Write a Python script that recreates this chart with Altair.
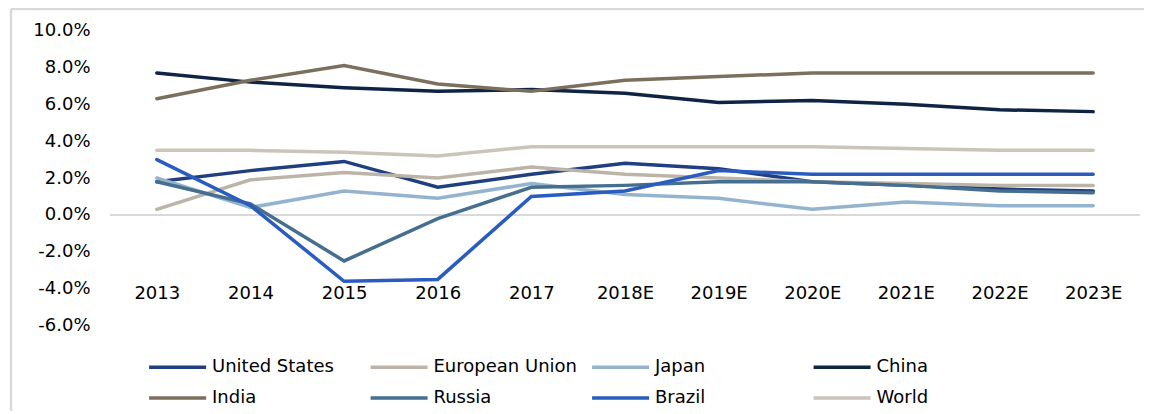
import altair as alt
import pandas as pd

years = ["2013", "2014", "2015", "2016", "2017", "2018E", "2019E", "2020E", "2021E", "2022E", "2023E"]
united_states = [1.8, 2.4, 2.9, 1.5, 2.2, 2.8, 2.5, 1.8, 1.6, 1.4, 1.3]
european_union = [0.3, 1.9, 2.3, 2.0, 2.6, 2.2, 2.0, 1.8, 1.7, 1.6, 1.6]
japan = [2.0, 0.4, 1.3, 0.9, 1.7, 1.1, 0.9, 0.3, 0.7, 0.5, 0.5]
china = [7.7, 7.2, 6.9, 6.7, 6.8, 6.6, 6.1, 6.2, 6.0, 5.7, 5.6]
india = [6.3, 7.3, 8.1, 7.1, 6.7, 7.3, 7.5, 7.7, 7.7, 7.7, 7.7]
russia = [1.8, 0.6, -2.5, -0.2, 1.5, 1.6, 1.8, 1.8, 1.6, 1.3, 1.2]
brazil = [3.0, 0.5, -3.6, -3.5, 1.0, 1.3, 2.4, 2.2, 2.2, 2.2, 2.2]
world = [3.5, 3.5, 3.4, 3.2, 3.7, 3.7, 3.7, 3.7, 3.6, 3.5, 3.5]
y_ticks = [-6, -4, -2, 0, 2, 4, 6, 8, 10]

series_names = ["United States", "European Union", "Japan", "China", "India", "Russia", "Brazil", "World"]
series_values = [united_states, european_union, japan, china, india, russia, brazil, world]
series_colors = ["#1f3f80", "#bdb4a8", "#94b3cf", "#0f2344", "#7b6f5d", "#456e8f", "#2a5cbf", "#cbc4b8"]

rows = []
for i, (name, vals) in enumerate(zip(series_names, series_values)):
    for yr, v in zip(years, vals):
        rows.append({"year": yr, "series": name, "value": v, "series_order": i})
df = pd.DataFrame(rows)

FONT = "DejaVu Sans"
FS = 18

y_scale = alt.Scale(domain=[-6, 10], nice=False, zero=False)
y_axis = alt.Axis(values=y_ticks, domain=False, ticks=False,
                  grid=False, labelPadding=20, labelFont=FONT, labelFontSize=FS,
                  labelColor="#000000", labelOverlap=False,
                  labelExpr="(datum.value < 0 ? '-' : '') + format(abs(datum.value), '.1f') + '%'")

x_enc = alt.X("year:N", sort=years, title=None,
              scale=alt.Scale(type="point", padding=0.5),
              axis=alt.Axis(orient="bottom", offset=-41, domain=False, ticks=False,
                            labelPadding=0, labelAngle=0, labelFont=FONT,
                            labelFontSize=FS, labelColor="#000000", grid=False))
y_enc = alt.Y("value:Q", title=None, scale=y_scale, axis=y_axis)

zero_line = alt.Chart(pd.DataFrame({"z": [0]})).mark_rule(color="#d9d9d9", strokeWidth=2).encode(
    y=alt.Y("z:Q", title=None, scale=y_scale, axis=y_axis)
)

lines = alt.Chart(df).mark_line(strokeWidth=3.5, strokeCap="round").encode(
    x=x_enc,
    y=y_enc,
    color=alt.Color("series:N", sort=series_names,
                    scale=alt.Scale(domain=series_names, range=series_colors),
                    legend=alt.Legend(title=None, orient="none", legendX=37, legendY=323,
                                      columns=4, direction="horizontal", gridAlign="all",
                                      symbolType="M-1,0L4,0", symbolSize=520, symbolStrokeWidth=3.5,
                                      labelOffset=38, labelFont=FONT, labelFontSize=FS,
                                      labelColor="#000000", columnPadding=7.5, rowPadding=8,
                                      labelLimit=300, padding=0)),
    order=alt.Order("series_order:Q"),
)

frame_top = alt.Chart(pd.DataFrame({"a": [0]})).mark_rule(color="#d9d9d9", strokeWidth=2.5).encode(
    x=alt.value(-99), x2=alt.value(1050), y=alt.value(-21.5)
)
frame_left = alt.Chart(pd.DataFrame({"a": [0]})).mark_rule(color="#d9d9d9", strokeWidth=2.5).encode(
    x=alt.value(-99), y=alt.value(-21.5), y2=alt.value(400)
)

chart = alt.layer(zero_line, lines, frame_top, frame_left).properties(
    width=1030, height=295,
    autosize=alt.AutoSizeParams(type="none"),
    padding={"left": 102, "top": 22.5, "right": 4, "bottom": 85},
    background="#ffffff",
).configure_view(stroke=None).configure_axisY(labelOverlap=False)

chart.save("out.html", embed_options={"renderer": "svg", "actions": False})
